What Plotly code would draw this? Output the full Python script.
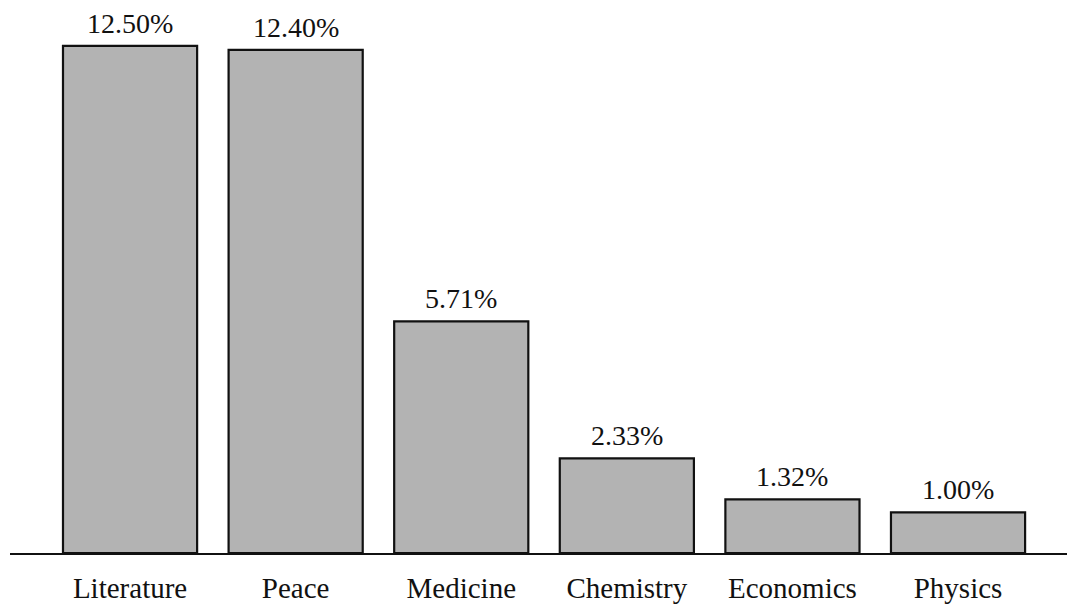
import plotly.graph_objects as go

categories = ["Literature", "Peace", "Medicine", "Chemistry", "Economics", "Physics"]
shares = [12.50, 12.40, 5.71, 2.33, 1.32, 1.00]

positions = list(range(len(categories)))
serif = "Liberation Serif, Times New Roman, serif"

fig = go.Figure(
    go.Bar(
        x=positions,
        y=shares,
        width=0.81,
        marker=dict(color="#b3b3b3", line=dict(color="#111111", width=2.2)),
        hoverinfo="skip",
    )
)

# value labels above each bar
for xi, v in zip(positions, shares):
    fig.add_annotation(
        x=xi, y=v, text=f"{v:.2f}%", showarrow=False,
        yanchor="bottom", yshift=5,
        font=dict(family=serif, size=28, color="#111111"),
    )

fig.update_layout(
    width=1067, height=604,
    margin=dict(l=10, r=0, t=0, b=47),
    paper_bgcolor="white", plot_bgcolor="white",
    showlegend=False,
    xaxis=dict(
        range=[-0.725, 5.658],
        tickmode="array", tickvals=positions, ticktext=categories,
        tickfont=dict(family=serif, size=29, color="#111111"),
        showgrid=False, zeroline=False,
        showline=True, linecolor="#111111", linewidth=2,
        ticks="", ticklabelstandoff=8,
    ),
    yaxis=dict(range=[0, 13.63], visible=False),
)

fig.write_html("out.html")
